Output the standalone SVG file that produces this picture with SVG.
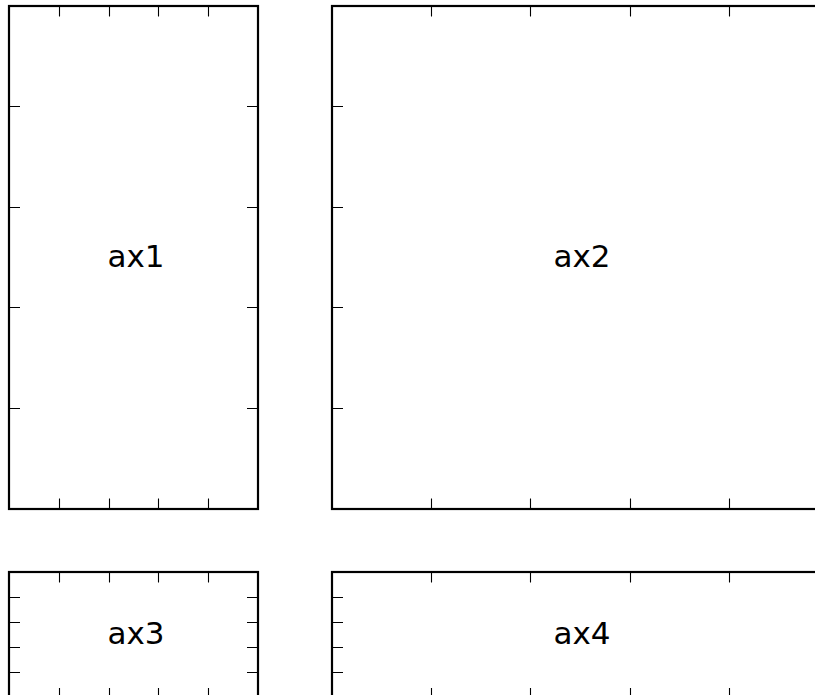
<svg xmlns="http://www.w3.org/2000/svg" width="815" height="695" viewBox="0 0 815 695">
<style>
.spine{fill:none;stroke:#000;stroke-width:2.2}
.tick{stroke:#000;stroke-width:1.1}
.lbl{font-family:"DejaVu Sans",sans-serif;font-size:31px;fill:#000;text-anchor:middle}
</style>
<rect width="815" height="695" fill="#fff"/>
<g id="ax1">
<rect class="spine" x="9" y="6" width="249" height="503"/>
<path class="tick" d="M59.5 6v10.5M109.5 6v10.5M158.5 6v10.5M208.5 6v10.5M59.5 509v-10.5M109.5 509v-10.5M158.5 509v-10.5M208.5 509v-10.5M9 106.5h11M9 207.5h11M9 307.5h11M9 408.5h11M258 106.5h-11M258 207.5h-11M258 307.5h-11M258 408.5h-11"/>
<text class="lbl" x="136" y="267">ax1</text>
</g>
<g id="ax2">
<rect class="spine" x="332" y="6" width="496" height="503"/>
<path class="tick" d="M431.5 6v10.5M530.5 6v10.5M630.5 6v10.5M729.5 6v10.5M431.5 509v-10.5M530.5 509v-10.5M630.5 509v-10.5M729.5 509v-10.5M332 106.5h11M332 207.5h11M332 307.5h11M332 408.5h11"/>
<text class="lbl" x="582" y="267">ax2</text>
</g>
<g id="ax3">
<rect class="spine" x="9" y="572" width="249" height="126.5"/>
<path class="tick" d="M59.5 572v10.5M109.5 572v10.5M158.5 572v10.5M208.5 572v10.5M59.5 698.5v-10.5M109.5 698.5v-10.5M158.5 698.5v-10.5M208.5 698.5v-10.5M9 597.5h11M9 622.5h11M9 647.5h11M9 672.5h11M258 597.5h-11M258 622.5h-11M258 647.5h-11M258 672.5h-11"/>
<text class="lbl" x="136" y="644">ax3</text>
</g>
<g id="ax4">
<rect class="spine" x="332" y="572" width="496" height="126.5"/>
<path class="tick" d="M431.5 572v10.5M530.5 572v10.5M630.5 572v10.5M729.5 572v10.5M431.5 698.5v-10.5M530.5 698.5v-10.5M630.5 698.5v-10.5M729.5 698.5v-10.5M332 597.5h11M332 622.5h11M332 647.5h11M332 672.5h11"/>
<text class="lbl" x="582" y="644">ax4</text>
</g>
</svg>
